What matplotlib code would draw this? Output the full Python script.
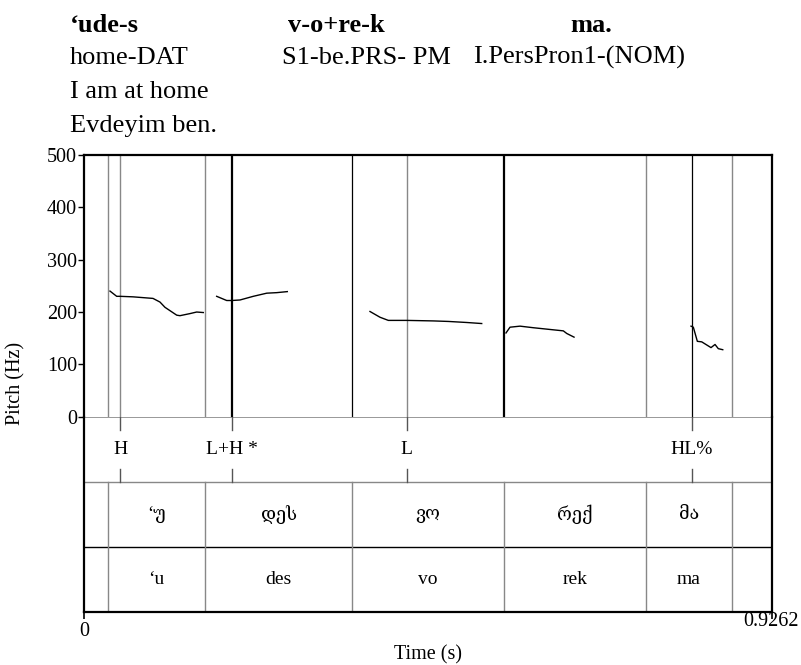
import matplotlib
matplotlib.use("Agg")
import matplotlib.pyplot as plt

plt.rcParams['font.family'] = ['Liberation Serif', 'DejaVu Serif', 'DejaVu Sans']

# total duration and pitch range
t_end = 0.9262
f0_max = 500

# pitch contour pieces (time s, Hz)
seg_t = [
    [0.0350, 0.0440, 0.0485, 0.0660, 0.0929, 0.1023, 0.1090, 0.1248, 0.1292, 0.1427, 0.1517, 0.1606],
    [0.1786, 0.1921, 0.1988, 0.2100, 0.2279, 0.2460, 0.2594, 0.2737],
    [0.3850, 0.3985, 0.4097, 0.4344, 0.4703, 0.4905, 0.5152, 0.5354],
    [0.5681, 0.5735, 0.5870, 0.6049, 0.6318, 0.6453, 0.6499, 0.6597],
    [0.8172, 0.8203, 0.8257, 0.8316, 0.8441, 0.8495, 0.8539, 0.8599],
]
seg_f = [
    [240, 230, 230, 229, 226, 219, 209, 194, 193, 197, 200, 199],
    [230, 222, 222, 223, 230, 236, 237, 239],
    [201, 190, 184, 184, 183, 182, 180, 178],
    [160, 171, 173, 170, 166, 164, 159, 152],
    [173, 171, 144, 143, 132, 138, 130, 128],
]

# tone tier (points)
tone_t = [0.0485, 0.1988, 0.4344, 0.8181]
tone_lab = ['H', 'L+H *', 'L', 'HL%']

# syllable boundaries and labels (Georgian script + transliteration)
bounds = [0.0323, 0.1629, 0.3608, 0.5654, 0.7566, 0.8724]
geo_lab = ['‘უ', 'დეს', 'ვო', 'რექ', 'მა']
lat_lab = ['‘u', 'des', 'vo', 'rek', 'ma']

# interlinear gloss above the picture
words = ['‘ude-s', 'v-o+re-k', 'ma.']
glosses = ['home-DAT', 'S1-be.PRS- PM', 'I.PersPron1-(NOM)']
translation = ['I am at home', 'Evdeyim ben.']

W, H = 801, 665
fig = plt.figure(figsize=(W / 100, H / 100), dpi=100)


def fx(px):
    return px / W


def fy(py):
    return 1 - py / H


left, right = 84, 772
ax = fig.add_axes([fx(left), fy(416.7), fx(right - left), (416.7 - 155) / H])
ax2 = fig.add_axes([fx(left), fy(612), fx(right - left), (612 - 416.7) / H])

# pitch panel
line_style = {
    0.0323: ('#888888', 1.0), 0.0485: ('#888888', 1.0), 0.1629: ('#888888', 1.0),
    0.1988: ('black', 1.6), 0.3608: ('black', 0.9), 0.4344: ('#888888', 1.0),
    0.5654: ('black', 1.6), 0.7566: ('#888888', 1.0), 0.8181: ('black', 0.9),
    0.8724: ('#888888', 1.0),
}
for x, (c, lw) in line_style.items():
    ax.axvline(x, color=c, lw=lw)
for ts, fs in zip(seg_t, seg_f):
    ax.plot(ts, fs, color='black', lw=1.0)
ax.set_xlim(0, t_end)
ax.set_ylim(0, f0_max)
ax.set_xticks([])
ax.set_yticks(range(0, 501, 100))
ax.tick_params(axis='y', direction='out', length=4, width=1, labelsize=14.5, pad=1)
for s in ['left', 'top', 'right']:
    ax.spines[s].set_linewidth(1.6)
ax.spines['bottom'].set_visible(False)

# tiers
ax2.set_xlim(0, t_end)
ax2.set_ylim(0, 3)
ax2.axhline(3, color='#888888', lw=1.2)
ax2.axhline(2, color='#888888', lw=1.0)
ax2.axhline(1, color='black', lw=1.0)
for b in bounds:
    ax2.plot([b, b], [0, 2], color='#888888', lw=1.0)
for t, lab in zip(tone_t, tone_lab):
    ax2.plot([t, t], [2.8, 3], color='#555555', lw=1.0)
    ax2.plot([t, t], [2, 2.2], color='#555555', lw=1.0)
    ax2.text(t, 2.5, lab, ha='center', va='center', fontsize=14)
mids = [(a + b) / 2 for a, b in zip(bounds[:-1], bounds[1:])]
for m, g, l in zip(mids, geo_lab, lat_lab):
    ax2.text(m, 1.5, g, ha='center', va='center', fontsize=13)
    ax2.text(m, 0.5, l, ha='center', va='center', fontsize=14)
ax2.set_yticks([])
ax2.set_xticks([0, t_end])
ax2.set_xticklabels([])
ax2.tick_params(axis='x', direction='out', length=5, width=1.2)
for s in ['left', 'bottom', 'right']:
    ax2.spines[s].set_linewidth(1.6)
ax2.spines['top'].set_visible(False)

# axis labels
fig.text(fx(84), fy(632), '0', ha='center', va='center', fontsize=14.5)
fig.text(fx(771), fy(622), '0.9262', ha='center', va='center', fontsize=14.5)
fig.text(fx(428), fy(655), 'Time (s)', ha='center', va='center', fontsize=14.5)
fig.text(fx(16), fy(383), 'Pitch (Hz)', ha='center', va='center', rotation=90, fontsize=14.5)

# gloss lines
for x, w in zip([70, 288, 570], words):
    fig.text(fx(x), fy(31.7), w, ha='left', va='baseline', fontsize=19, fontweight='bold')
for x, g in zip([70, 281.7, 472.7], glosses):
    fig.text(fx(x), fy(64), g, ha='left', va='baseline', fontsize=19)
fig.text(fx(70), fy(98), translation[0], ha='left', va='baseline', fontsize=19)
fig.text(fx(70), fy(131.7), translation[1], ha='left', va='baseline', fontsize=19)

fig.savefig('out.png', dpi=100)
